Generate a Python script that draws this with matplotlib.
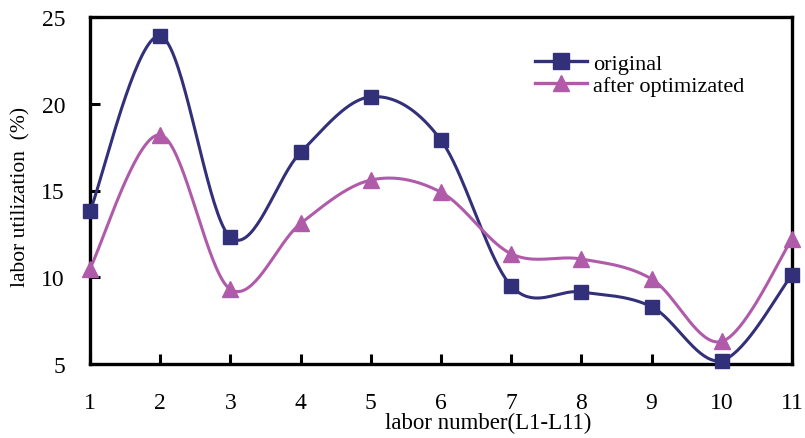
import numpy as np
import matplotlib
matplotlib.use("Agg")
import matplotlib.pyplot as plt

labor = [1, 2, 3, 4, 5, 6, 7, 8, 9, 10, 11]
original = [13.8, 23.9, 12.3, 17.2, 20.4, 17.9, 9.5, 9.15, 8.3, 5.2, 10.15]
optimized = [10.5, 18.2, 9.3, 13.1, 15.6, 14.9, 11.35, 11.05, 9.9, 6.3, 12.2]
yticks = [5, 10, 15, 20, 25]

def smooth(xs, ys, n=40):
    xs = np.asarray(xs, float); ys = np.asarray(ys, float)
    px = np.concatenate([[xs[0]], xs, [xs[-1]]])
    py = np.concatenate([[ys[0]], ys, [ys[-1]]])
    ox, oy = [], []
    t = np.linspace(0, 1, n)
    for i in range(1, len(px) - 2):
        p0 = np.array([px[i], py[i]])
        p3 = np.array([px[i + 1], py[i + 1]])
        c1 = p0 + (np.array([px[i + 1], py[i + 1]]) - np.array([px[i - 1], py[i - 1]])) / 6
        c2 = p3 - (np.array([px[i + 2], py[i + 2]]) - np.array([px[i], py[i]])) / 6
        b = ((1 - t) ** 3)[:, None] * p0 + (3 * (1 - t) ** 2 * t)[:, None] * c1 \
            + (3 * (1 - t) * t ** 2)[:, None] * c2 + (t ** 3)[:, None] * p3
        ox.extend(b[:, 0]); oy.extend(b[:, 1])
    return ox, oy

plt.rcParams['font.family'] = ['Liberation Serif', 'DejaVu Serif']
fig = plt.figure(figsize=(8.05, 4.39), dpi=100)
ax = fig.add_axes([90 / 805, 1 - 365 / 439, (792 - 90) / 805, (365 - 18) / 439])

c_orig = '#33307A'
c_opt = '#B05BAA'

sx, sy = smooth(labor, original)
ax.plot(sx, sy, color=c_orig, lw=2.2, zorder=3, clip_on=False)
sx2, sy2 = smooth(labor, optimized)
ax.plot(sx2, sy2, color=c_opt, lw=2.2, zorder=3, clip_on=False)
ax.plot(labor, original, ls='none', marker='s', ms=10, color=c_orig, zorder=4, clip_on=False)
ax.plot(labor, optimized, ls='none', marker='^', ms=11, color=c_opt, zorder=4, clip_on=False)

# legend proxies
ax.plot([], [], color=c_orig, lw=2.4, marker='s', ms=11, label='original')
ax.plot([], [], color=c_opt, lw=2.4, marker='^', ms=12, label='after optimizated')
leg = ax.legend(loc='upper left', bbox_to_anchor=(0.634, 0.895), frameon=False,
                fontsize=16, handlelength=2.35, handletextpad=0.27, labelspacing=0.05,
                borderaxespad=0, borderpad=0)

ax.set_xlim(1, 11)
ax.set_ylim(5, 25)
ax.set_xticks(labor)
ax.set_yticks(yticks)
ax.tick_params(axis='both', direction='in', length=7, width=2.2, labelsize=17)
ax.tick_params(axis='x', pad=20)
ax.tick_params(axis='y', pad=18)
for s in ax.spines.values():
    s.set_linewidth(2.4)

ax.set_ylabel('labor utilization  (%)', fontsize=15.5)
ax.yaxis.set_label_coords(-0.085, 0.485)
ax.set_xlabel('labor number(L1-L11)', fontsize=16.5)
ax.xaxis.set_label_coords(0.567, -0.137)

fig.savefig('out.png', dpi=100)
